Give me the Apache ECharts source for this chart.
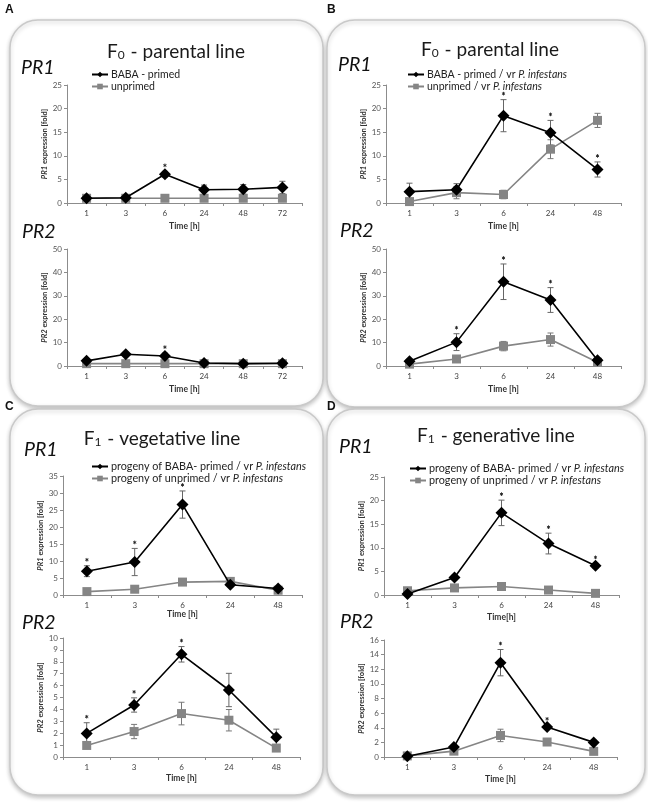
<!DOCTYPE html>
<html><head><meta charset="utf-8">
<script src="https://cdn.jsdelivr.net/npm/echarts@6/dist/echarts.min.js"></script>
<style>html,body{margin:0;padding:0;background:#fff}#c{width:648px;height:802px}</style>
</head><body><div id="c"></div>
<script>
const FONT = 'Lato, "Open Sans", sans-serif';

const timesA = ['1', '3', '6', '24', '48', '72'];
const times = ['1', '3', '6', '24', '48'];

const namesA = ['BABA - primed', 'unprimed'];
const namesB = ['BABA - primed / vr P. infestans', 'unprimed / vr P. infestans'];
const namesCD = ['progeny of BABA- primed / vr P. infestans', 'progeny of unprimed / vr P. infestans'];

const aPR1Primed = [1.0, 1.1, 6.1, 2.8, 2.9, 3.3];
const aPR1PrimedErr = [0.3, 0.3, 0.6, 1.0, 1.0, 1.3];
const aPR1Unprimed = [1.0, 1.0, 1.0, 1.0, 1.0, 1.0];
const aPR1UnprimedErr = [0.2, 0.2, 0.2, 0.2, 0.2, 0.2];
const aPR1Stars = [2];
const aPR2Primed = [2.2, 5.0, 4.3, 1.3, 1.0, 1.2];
const aPR2PrimedErr = [0.8, 0.6, 1.2, 0.5, 0.3, 0.5];
const aPR2Unprimed = [1.0, 1.0, 1.0, 1.0, 1.0, 1.0];
const aPR2UnprimedErr = [0.3, 0.3, 0.3, 0.3, 0.3, 0.3];
const aPR2Stars = [2];

const bPR1Primed = [2.4, 2.8, 18.5, 14.9, 7.1];
const bPR1PrimedErr = [1.8, 1.3, 3.4, 2.6, 1.6];
const bPR1Unprimed = [0.3, 2.2, 1.8, 11.4, 17.5];
const bPR1UnprimedErr = [0.3, 1.3, 0.9, 2.0, 1.5];
const bPR1Stars = [2, 3, 4];
const bPR2Primed = [2.0, 10.2, 36.0, 28.2, 2.5];
const bPR2PrimedErr = [1.0, 3.6, 7.6, 5.3, 0.8];
const bPR2Unprimed = [0.8, 3.0, 8.5, 11.3, 1.6];
const bPR2UnprimedErr = [0.4, 1.0, 2.0, 2.8, 0.6];
const bPR2Stars = [1, 2, 3];

const cPR1Primed = [7.0, 9.7, 26.6, 3.0, 1.9];
const cPR1PrimedErr = [1.6, 4.0, 4.0, 0.6, 0.5];
const cPR1Unprimed = [1.0, 1.7, 3.8, 4.0, 1.4];
const cPR1UnprimedErr = [0.3, 0.5, 0.8, 0.6, 0.4];
const cPR1Stars = [0, 1, 2];
const cPR2Primed = [1.98, 4.37, 8.63, 5.63, 1.67];
const cPR2PrimedErr = [0.9, 0.6, 0.65, 1.4, 0.67];
const cPR2Unprimed = [0.97, 2.14, 3.65, 3.09, 0.75];
const cPR2UnprimedErr = [0.2, 0.6, 0.95, 0.9, 0.2];
const cPR2Stars = [0, 1, 2];

const dPR1Primed = [0.2, 3.7, 17.4, 10.9, 6.2];
const dPR1PrimedErr = [0.2, 0.5, 2.7, 2.2, 0.5];
const dPR1Unprimed = [0.9, 1.5, 1.8, 1.05, 0.35];
const dPR1UnprimedErr = [0.3, 0.3, 0.3, 0.3, 0.2];
const dPR1Stars = [2, 3, 4];
const dPR2Primed = [0.1, 1.36, 12.9, 4.1, 2.0];
const dPR2PrimedErr = [0.1, 0.3, 1.8, 0.3, 0.3];
const dPR2Unprimed = [0.15, 0.8, 2.95, 2.05, 0.77];
const dPR2UnprimedErr = [0.1, 0.2, 0.85, 0.2, 0.2];
const dPR2Stars = [2, 3];

const panels = [
  {g: {left: 67, top: 85, width: 235, height: 118}, cats: timesA, max: 25, iv: 5, gene: 'PR1', xName: 'Time [h]', xGap: 19, yGap: 18, names: namesA,
   p: aPR1Primed, pe: aPR1PrimedErr, u: aPR1Unprimed, ue: aPR1UnprimedErr, s: aPR1Stars},
  {g: {left: 67, top: 249, width: 235, height: 117}, cats: timesA, max: 50, iv: 10, gene: 'PR2', xName: 'Time [h]', xGap: 19, yGap: 18, names: namesA,
   p: aPR2Primed, pe: aPR2PrimedErr, u: aPR2Unprimed, ue: aPR2UnprimedErr, s: aPR2Stars},
  {g: {left: 386, top: 85, width: 235, height: 118}, cats: times, max: 25, iv: 5, gene: 'PR1', xName: 'Time [h]', xGap: 19, yGap: 18, names: namesB,
   p: bPR1Primed, pe: bPR1PrimedErr, u: bPR1Unprimed, ue: bPR1UnprimedErr, s: bPR1Stars},
  {g: {left: 386, top: 249, width: 235, height: 117}, cats: times, max: 50, iv: 10, gene: 'PR2', xName: 'Time [h]', xGap: 19, yGap: 18, names: namesB,
   p: bPR2Primed, pe: bPR2PrimedErr, u: bPR2Unprimed, ue: bPR2UnprimedErr, s: bPR2Stars},
  {g: {left: 63, top: 476, width: 239, height: 119}, cats: times, max: 35, iv: 5, gene: 'PR1', xName: 'Time [h]', xGap: 12, yGap: 16, names: namesCD,
   p: cPR1Primed, pe: cPR1PrimedErr, u: cPR1Unprimed, ue: cPR1UnprimedErr, s: cPR1Stars},
  {g: {left: 63, top: 638, width: 237, height: 119}, cats: times, max: 10, iv: 1, gene: 'PR2', xName: 'Time [h]', xGap: 17, yGap: 16, names: namesCD,
   p: cPR2Primed, pe: cPR2PrimedErr, u: cPR2Unprimed, ue: cPR2UnprimedErr, s: cPR2Stars},
  {g: {left: 384, top: 477, width: 235, height: 118}, cats: times, max: 25, iv: 5, gene: 'PR1', xName: 'Time[h]', xGap: 18, yGap: 16, names: namesCD,
   p: dPR1Primed, pe: dPR1PrimedErr, u: dPR1Unprimed, ue: dPR1UnprimedErr, s: dPR1Stars},
  {g: {left: 384, top: 640, width: 233, height: 117}, cats: times, max: 16, iv: 2, gene: 'PR2', xName: 'Time [h]', xGap: 18, yGap: 16, names: namesCD,
   p: dPR2Primed, pe: dPR2PrimedErr, u: dPR2Unprimed, ue: dPR2UnprimedErr, s: dPR2Stars}
];

const AX = '#8c8c8c';
const grid = [], xAxis = [], yAxis = [], series = [];

function errRender(color) {
  return function (params, api) {
    const x = api.value(0), v = api.value(1), e = api.value(2);
    const t = api.coord([x, v + e]), b = api.coord([x, v - e]);
    const w = 3, st = {stroke: color, lineWidth: 1};
    return {type: 'group', children: [
      {type: 'line', shape: {x1: t[0], y1: t[1], x2: b[0], y2: b[1]}, style: st},
      {type: 'line', shape: {x1: t[0] - w, y1: t[1], x2: t[0] + w, y2: t[1]}, style: st},
      {type: 'line', shape: {x1: b[0] - w, y1: b[1], x2: b[0] + w, y2: b[1]}, style: st}
    ]};
  };
}
// significance star drawn as a small asterisk path (3 short strokes)
function starRender(params, api) {
  const p = api.coord([api.value(0), api.value(1)]);
  const cx = p[0], cy = p[1] - 6, r = 1.8;
  const st = {stroke: '#222', lineWidth: 0.9};
  const kids = [];
  for (let a = 0; a < 3; a++) {
    const ang = Math.PI / 2 + a * Math.PI / 3;
    const dx = Math.cos(ang) * r, dy = Math.sin(ang) * r;
    kids.push({type: 'line', shape: {x1: cx - dx, y1: cy - dy, x2: cx + dx, y2: cy + dy}, style: st});
  }
  return {type: 'group', children: kids};
}

panels.forEach((pn, i) => {
  grid.push(pn.g);
  xAxis.push({
    type: 'category', gridIndex: i, data: pn.cats, boundaryGap: true,
    name: pn.xName, nameLocation: 'middle', nameGap: pn.xGap,
    nameTextStyle: {fontSize: 8.5, fontWeight: 'bold', color: '#333', fontFamily: FONT},
    axisLine: {lineStyle: {color: AX, width: 1}},
    axisTick: {show: true, length: 3, lineStyle: {color: AX}},
    axisLabel: {fontSize: 8, color: '#444', margin: 6, fontFamily: FONT},
    splitLine: {show: false}
  });
  yAxis.push({
    type: 'value', gridIndex: i, min: 0, max: pn.max, interval: pn.iv,
    name: '{i|' + pn.gene + '} expression [fold]', nameLocation: 'middle', nameRotate: 90, nameGap: pn.yGap,
    nameTextStyle: {fontSize: 7.5, fontWeight: 'bold', color: '#333', fontFamily: FONT,
      rich: {i: {fontSize: 7.5, fontWeight: 'bold', fontStyle: 'italic', color: '#333', fontFamily: FONT}}},
    axisLine: {show: true, lineStyle: {color: AX, width: 1}},
    axisTick: {show: true, length: 3, lineStyle: {color: AX}},
    axisLabel: {fontSize: 8, color: '#555', margin: 5, fontFamily: FONT},
    splitLine: {show: false}
  });
  series.push({
    type: 'custom', xAxisIndex: i, yAxisIndex: i, z: 1, clip: false, silent: true,
    renderItem: errRender('#777'),
    data: pn.u.map((v, k) => [k, v, pn.ue[k]])
  });
  series.push({
    type: 'custom', xAxisIndex: i, yAxisIndex: i, z: 1, clip: false, silent: true,
    renderItem: errRender('#666'),
    data: pn.p.map((v, k) => [k, v, pn.pe[k]])
  });
  series.push({
    name: pn.names[1], type: 'line', xAxisIndex: i, yAxisIndex: i, z: 3,
    data: pn.u, symbol: 'rect', symbolSize: 9, color: '#858585',
    lineStyle: {color: '#858585', width: 1.6}, itemStyle: {color: '#858585'}
  });
  series.push({
    name: pn.names[0], type: 'line', xAxisIndex: i, yAxisIndex: i, z: 4,
    data: pn.p, symbol: 'diamond', symbolSize: 12, color: '#000',
    lineStyle: {color: '#000', width: 1.6}, itemStyle: {color: '#000'}
  });
  series.push({
    type: 'custom', xAxisIndex: i, yAxisIndex: i, z: 6, clip: false, silent: true,
    renderItem: starRender,
    data: pn.s.map(k => [k, pn.p[k] + pn.pe[k]])
  });
});

function mkLegend(names, left, top, fs) {
  return {
    data: names, orient: 'vertical', left: left, top: top, itemGap: 1,
    itemWidth: 16, itemHeight: 7, selectedMode: false,
    formatter: n => n.replace('P. infestans', '{i|P. infestans}'),
    textStyle: {fontSize: fs, color: '#222', fontFamily: FONT, padding: [0, 0, 0, -2],
      rich: {i: {fontSize: fs, fontStyle: 'italic', color: '#222', fontFamily: FONT}}}
  };
}
const legend = [
  mkLegend(namesA, 86, 64, 10.5),
  mkLegend(namesB, 402, 64, 10.5),
  mkLegend(namesCD, 86, 456, 10.8),
  mkLegend(namesCD, 404, 458, 10.8)
];

function box(x, y, w, h) {
  return {type: 'rect', z: -10, silent: true, shape: {x: x, y: y, width: w, height: h, r: 28},
    style: {fill: '#fff', stroke: '#c9c9c9', lineWidth: 1.5, shadowBlur: 4, shadowColor: 'rgba(0,0,0,0.22)', shadowOffsetY: 2}};
}
function txt(x, y, text, size, opts) {
  return {type: 'text', x: x, y: y, z: 10, silent: true,
    style: Object.assign({text: text, fontSize: size, fontFamily: FONT, fill: '#111', align: 'left', verticalAlign: 'middle'}, opts || {})};
}
function title(x, y, main, sub, rest) {
  return txt(x, y, main + '{s|' + sub + '}' + rest, 19, {align: 'center', fill: '#1a1a1a',
    rich: {s: {fontSize: 12, fontFamily: FONT, fill: '#1a1a1a', verticalAlign: 'bottom', padding: [0, 1, 0, 0]}}});
}
const graphic = [
  box(10, 20, 313, 386), box(327, 20, 318, 387), box(10, 409, 313, 386), box(327, 409, 318, 386),
  txt(5, 10, 'A', 12, {fontWeight: 'bold', fontFamily: 'Liberation Sans, Arial'}),
  txt(327, 10, 'B', 12, {fontWeight: 'bold', fontFamily: 'Liberation Sans, Arial'}),
  txt(5, 407, 'C', 12, {fontWeight: 'bold', fontFamily: 'Liberation Sans, Arial'}),
  txt(327, 407, 'D', 12, {fontWeight: 'bold', fontFamily: 'Liberation Sans, Arial'}),
  title(176, 52, 'F', '0', ' - parental line'),
  title(490, 50, 'F', '0', ' - parental line'),
  title(162, 439, 'F', '1', ' - vegetative line'),
  title(496, 436, 'F', '1', ' - generative line'),
  txt(21, 68, 'PR1', 19.5, {fontStyle: 'italic'}),
  txt(22, 232, 'PR2', 19.5, {fontStyle: 'italic'}),
  txt(338, 65, 'PR1', 19.5, {fontStyle: 'italic'}),
  txt(340, 231, 'PR2', 19.5, {fontStyle: 'italic'}),
  txt(24, 450, 'PR1', 19.5, {fontStyle: 'italic'}),
  txt(22, 623, 'PR2', 19.5, {fontStyle: 'italic'}),
  txt(339, 447, 'PR1', 19.5, {fontStyle: 'italic'}),
  txt(340, 622, 'PR2', 19.5, {fontStyle: 'italic'})
];

const chart = echarts.init(document.getElementById('c'));
chart.setOption({
  animation: false, backgroundColor: '#fff',
  textStyle: {fontFamily: FONT},
  grid: grid, xAxis: xAxis, yAxis: yAxis, series: series, legend: legend, graphic: graphic
});
</script></body></html>
